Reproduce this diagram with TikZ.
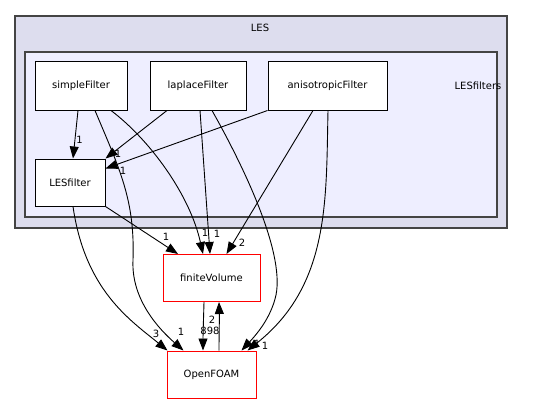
\documentclass[tikz,border=0pt]{standalone}
\usepackage{fontspec}
\setmainfont{DejaVu Sans}
\usetikzlibrary{arrows.meta,calc}
\definecolor{outerfill}{HTML}{DDDDEE}
\definecolor{innerfill}{HTML}{EEEEFF}
\definecolor{clusterline}{HTML}{444444}
\begin{document}
\begin{tikzpicture}[x=1pt,y=-1pt,
  every node/.style={font=\fontsize{10}{12}\selectfont, inner sep=0pt},
  dirbox/.style={draw=black, line width=1pt, fill=white, minimum height=48pt},
  redbox/.style={draw=red, line width=1pt, fill=white, minimum height=47pt},
  edge/.style={draw=black, line width=0.9pt, -{Triangle[length=12pt,width=9pt]}},
  lbl/.style={font=\fontsize{10}{12}\selectfont}]
\useasboundingbox (0,0) rectangle (559,404);
% clusters
\node[draw=clusterline, line width=1.5pt, fill=outerfill, minimum width=492pt, minimum height=212pt] (les) at (261,122) {};
\node (leslabel) at (260,28) {LES};
\node[draw=clusterline, line width=1.5pt, fill=innerfill, minimum width=472pt, minimum height=165pt] (lesf) at (261,134.5) {};
\node (lesflabel) at (478,86) {LESfilters};
% nodes
\node[dirbox, minimum width=92pt] (simple) at (81,86) {simpleFilter};
\node[dirbox, minimum width=96pt] (laplace) at (198,86) {laplaceFilter};
\node[dirbox, minimum width=119pt] (aniso) at (327.5,86) {anisotropicFilter};
\node[dirbox, minimum width=70pt, minimum height=47pt] (lesfilter) at (70,182.5) {LESfilter};
\node[redbox, minimum width=97pt] (fv) at (211.5,278) {finiteVolume};
\node[redbox, minimum width=89pt] (of) at (211.5,374.5) {OpenFOAM};
% edges
\draw[edge] ([xshift=-3pt]simple.south) -- ([xshift=3pt]lesfilter.north) node[lbl, pos=0.62, right=1pt] (l1) {1};
\draw[edge] ([xshift=14pt]simple.south) .. controls (120,170) and (135,200) .. (133,260) .. controls (131,300) and (160,330) .. ([xshift=-28pt]of.north);
\node[lbl] (l2) at (181,332) {1};
\draw[edge] ([xshift=30pt]simple.south) .. controls (150,140) and (190,195) .. ([xshift=-8.5pt]fv.north);
\node[lbl] (l3) at (205,233) {1};
\draw[edge] ([xshift=-31pt]laplace.south) -- (lesfilter.north east);
\node[lbl] (l4) at (118,154) {1};
\draw[edge] ([xshift=2pt]laplace.south) -- ([xshift=-1.5pt]fv.north);
\node[lbl] (l5) at (217,234) {1};
\draw[edge] ([xshift=14pt]laplace.south) .. controls (240,160) and (285,250) .. (276,295) .. controls (271,318) and (256,335) .. ([xshift=30pt]of.north);
\node[lbl] (l6) at (257,344) {1};
\draw[edge] (aniso.south west) -- ([yshift=-10pt]lesfilter.north east);
\node[lbl] (l7) at (123,171) {1};
\draw[edge] ([xshift=-14.5pt]aniso.south) -- ([xshift=15pt]fv.north);
\node[lbl] (l8) at (242,243) {2};
\draw[edge] ([xshift=0.5pt]aniso.south) .. controls (326,200) and (330,285) .. ([xshift=36pt]of.north);
\node[lbl] (l9) at (265,346) {1};
\draw[edge] (lesfilter.south east) -- ([xshift=-33.5pt]fv.north);
\node[lbl] (l10) at (166,237) {1};
\draw[edge] ([xshift=3pt]lesfilter.south) .. controls (85,290) and (130,320) .. ([xshift=1pt]of.north west);
\node[lbl] (l11) at (156,334) {3};
\draw[edge] ([xshift=-7.5pt]fv.south) .. controls (203.5,320) and (203,335) .. ([xshift=-8.5pt]of.north);
\node[lbl] (l12) at (210,331) {898};
\draw[edge] ([xshift=7.5pt]of.north) .. controls (219,335) and (219.5,320) .. ([xshift=7.5pt]fv.south);
\node[lbl] (l13) at (212,320) {2};
\end{tikzpicture}
\end{document}
